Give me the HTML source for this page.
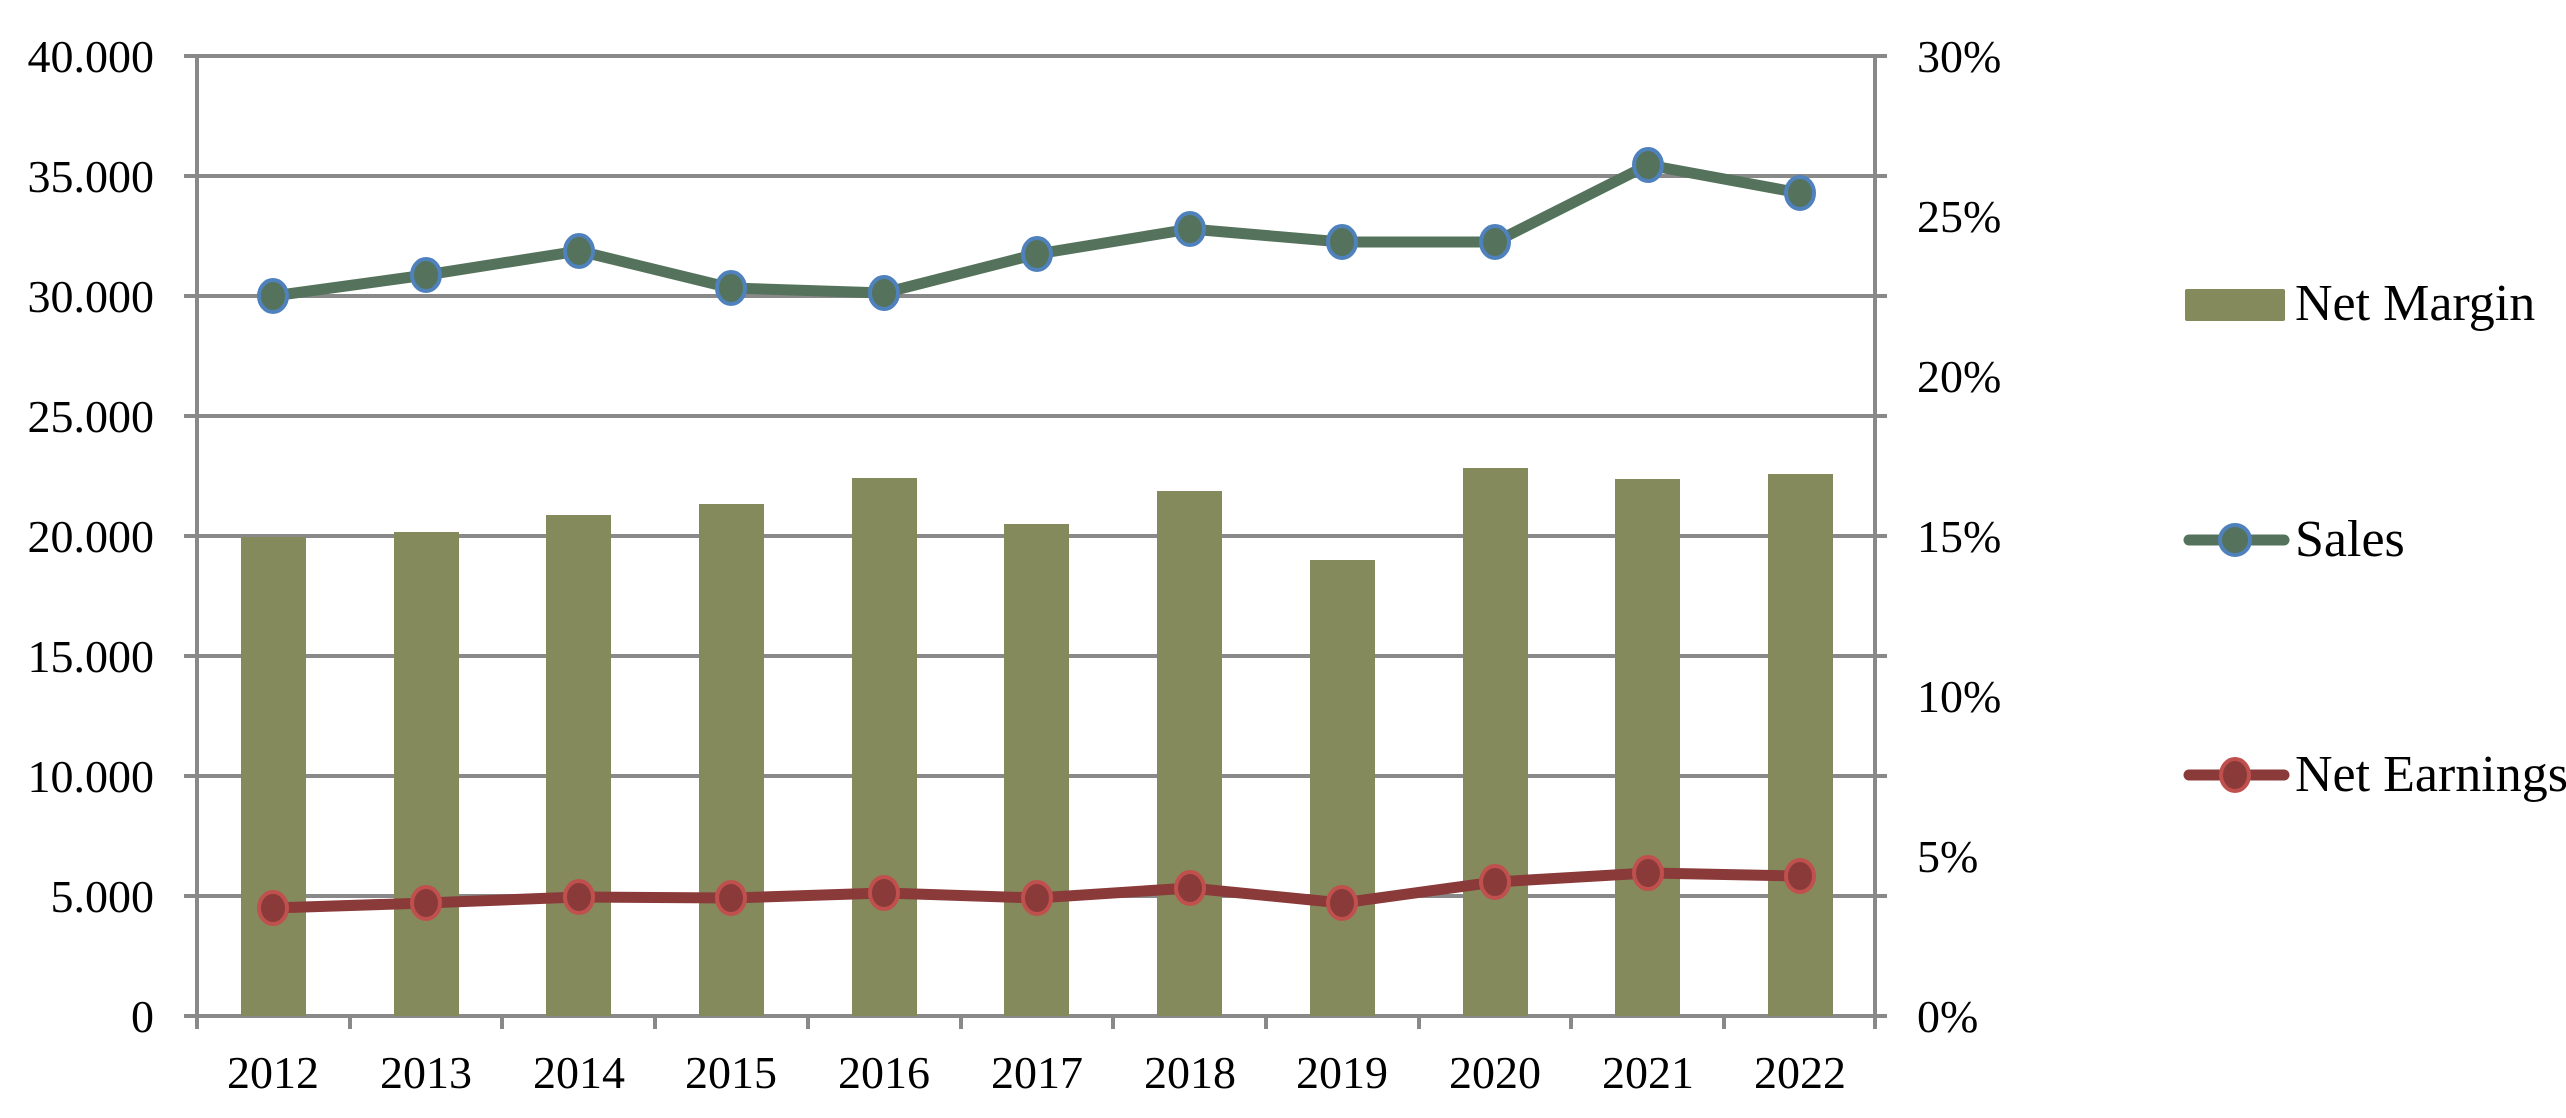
<!DOCTYPE html>
<html><head><meta charset="utf-8"><style>
html,body{margin:0;padding:0;background:#fff;width:2566px;height:1118px;overflow:hidden}
svg text{font-family:"Liberation Serif",serif;fill:#000}
</style></head><body>
<svg width="2566" height="1118" viewBox="0 0 2566 1118" xmlns="http://www.w3.org/2000/svg">
<g stroke="#898989" stroke-width="4" fill="none">
<line x1="184" y1="56" x2="1887" y2="56"/>
<line x1="184" y1="176" x2="1887" y2="176"/>
<line x1="184" y1="296" x2="1887" y2="296"/>
<line x1="184" y1="416" x2="1887" y2="416"/>
<line x1="184" y1="536" x2="1887" y2="536"/>
<line x1="184" y1="656" x2="1887" y2="656"/>
<line x1="184" y1="776" x2="1887" y2="776"/>
<line x1="184" y1="896" x2="1887" y2="896"/>
<line x1="184" y1="1016" x2="1887" y2="1016"/>
<line x1="197" y1="56" x2="197" y2="1029"/>
<line x1="1875" y1="56" x2="1875" y2="1029"/>
<line x1="350" y1="1016" x2="350" y2="1029"/>
<line x1="502" y1="1016" x2="502" y2="1029"/>
<line x1="655" y1="1016" x2="655" y2="1029"/>
<line x1="808" y1="1016" x2="808" y2="1029"/>
<line x1="961" y1="1016" x2="961" y2="1029"/>
<line x1="1113" y1="1016" x2="1113" y2="1029"/>
<line x1="1266" y1="1016" x2="1266" y2="1029"/>
<line x1="1419" y1="1016" x2="1419" y2="1029"/>
<line x1="1571" y1="1016" x2="1571" y2="1029"/>
<line x1="1724" y1="1016" x2="1724" y2="1029"/>
</g>
<g fill="#848a5b">
<rect x="241" y="537" width="65" height="479"/>
<rect x="394" y="532" width="65" height="484"/>
<rect x="546" y="515" width="65" height="501"/>
<rect x="699" y="504" width="65" height="512"/>
<rect x="852" y="478" width="65" height="538"/>
<rect x="1004" y="524" width="65" height="492"/>
<rect x="1157" y="491" width="65" height="525"/>
<rect x="1310" y="560" width="65" height="456"/>
<rect x="1463" y="468" width="65" height="548"/>
<rect x="1615" y="479" width="65" height="537"/>
<rect x="1768" y="474" width="65" height="542"/>
</g>
<polyline fill="none" stroke="#55735c" stroke-width="11" stroke-linejoin="round" points="273,296 426,275 579,251 731,288 884,293 1037,254 1190,229 1342,242 1495,242 1648,165 1800,193"/>
<g fill="#55735c" stroke="#4f81bd" stroke-width="4">
<ellipse cx="273" cy="296" rx="14" ry="16"/><ellipse cx="426" cy="275" rx="14" ry="16"/><ellipse cx="579" cy="251" rx="14" ry="16"/><ellipse cx="731" cy="288" rx="14" ry="16"/><ellipse cx="884" cy="293" rx="14" ry="16"/><ellipse cx="1037" cy="254" rx="14" ry="16"/><ellipse cx="1190" cy="229" rx="14" ry="16"/><ellipse cx="1342" cy="242" rx="14" ry="16"/><ellipse cx="1495" cy="242" rx="14" ry="16"/><ellipse cx="1648" cy="165" rx="14" ry="16"/><ellipse cx="1800" cy="193" rx="14" ry="16"/>
</g>
<polyline fill="none" stroke="#8b3a3a" stroke-width="11" stroke-linejoin="round" points="273,908 426,903 579,897 731,898 884,893 1037,898 1190,888 1342,903 1495,882 1648,873 1800,876"/>
<g fill="#8b3a3a" stroke="#c0504d" stroke-width="4">
<ellipse cx="273" cy="908" rx="14" ry="16"/><ellipse cx="426" cy="903" rx="14" ry="16"/><ellipse cx="579" cy="897" rx="14" ry="16"/><ellipse cx="731" cy="898" rx="14" ry="16"/><ellipse cx="884" cy="893" rx="14" ry="16"/><ellipse cx="1037" cy="898" rx="14" ry="16"/><ellipse cx="1190" cy="888" rx="14" ry="16"/><ellipse cx="1342" cy="903" rx="14" ry="16"/><ellipse cx="1495" cy="882" rx="14" ry="16"/><ellipse cx="1648" cy="873" rx="14" ry="16"/><ellipse cx="1800" cy="876" rx="14" ry="16"/>
</g>
<g font-size="46" text-anchor="end">
<text x="154" y="72">40.000</text><text x="154" y="192">35.000</text><text x="154" y="312">30.000</text><text x="154" y="432">25.000</text><text x="154" y="552">20.000</text><text x="154" y="672">15.000</text><text x="154" y="792">10.000</text><text x="154" y="912">5.000</text><text x="154" y="1032">0</text>
</g>
<g font-size="46">
<text x="1917" y="72">30%</text><text x="1917" y="232">25%</text><text x="1917" y="392">20%</text><text x="1917" y="552">15%</text><text x="1917" y="712">10%</text><text x="1917" y="872">5%</text><text x="1917" y="1032">0%</text>
</g>
<g font-size="46" text-anchor="middle">
<text x="273" y="1088">2012</text><text x="426" y="1088">2013</text><text x="579" y="1088">2014</text><text x="731" y="1088">2015</text><text x="884" y="1088">2016</text><text x="1037" y="1088">2017</text><text x="1190" y="1088">2018</text><text x="1342" y="1088">2019</text><text x="1495" y="1088">2020</text><text x="1648" y="1088">2021</text><text x="1800" y="1088">2022</text>
</g>
<rect x="2185" y="289" width="100" height="32" rx="2" fill="#848a5b"/>
<line x1="2189" y1="540" x2="2284" y2="540" stroke="#55735c" stroke-width="11" stroke-linecap="round"/>
<circle cx="2235" cy="540" r="15" fill="#55735c" stroke="#4f81bd" stroke-width="4"/>
<line x1="2189" y1="775" x2="2284" y2="775" stroke="#8b3a3a" stroke-width="11" stroke-linecap="round"/>
<ellipse cx="2235" cy="775" rx="14" ry="16" fill="#8b3a3a" stroke="#c0504d" stroke-width="4"/>
<g font-size="52">
<text x="2295" y="320">Net Margin</text>
<text x="2295" y="556">Sales</text>
<text x="2295" y="791">Net Earnings</text>
</g>
</svg>
</body></html>
